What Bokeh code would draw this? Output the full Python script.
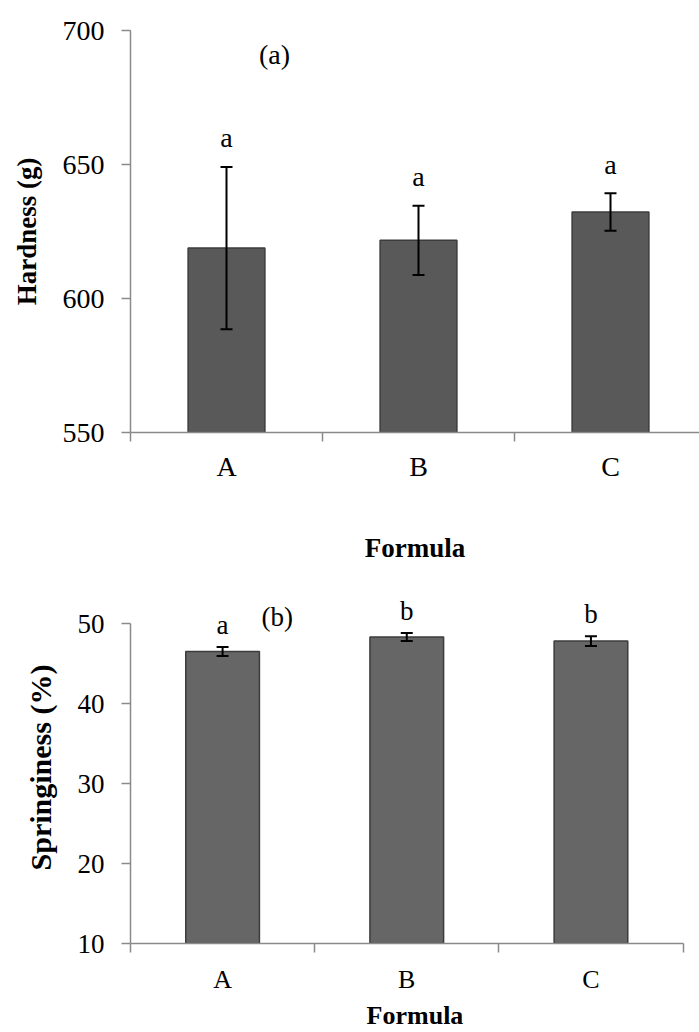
from bokeh.plotting import figure
from bokeh.layouts import column
from bokeh.models import ColumnDataSource, Whisker, TeeHead, FixedTicker, Range1d, Label
from bokeh.core.properties import value
from bokeh.embed import file_html
from bokeh.resources import INLINE

# Texture profile of the three formulas (mean and standard deviation)
formulas = ["A", "B", "C"]
hardness = [618.8, 621.7, 632.3]
hardness_sd = [30.3, 12.9, 7.0]
hardness_groups = ["a", "a", "a"]
springiness = [46.5, 48.3, 47.8]
springiness_sd = [0.55, 0.5, 0.6]
springiness_groups = ["a", "b", "b"]

FONT = "Liberation Serif"
AXIS_GREY = "#8a8a8a"


def panel(values, sds, groups, y_start, y_end, y_top, y_ticks, y_label, tag,
          tag_x, tag_y, width, height, border_left, border_top, border_bottom,
          x_end, x_bounds, fill, tick_size, xtick_size, label_size, ylabel_size,
          letter_offset, x_standoff, x_label_standoff):
    xs = [i + 0.5 for i in range(len(formulas))]
    src = ColumnDataSource(dict(
        x=xs, top=values,
        upper=[v + s for v, s in zip(values, sds)],
        lower=[v - s for v, s in zip(values, sds)],
        group=groups,
    ))
    p = figure(width=width, height=height, output_backend="svg",
               toolbar_location=None, x_range=Range1d(0, x_end),
               y_range=Range1d(y_start, y_top),
               min_border_left=border_left, min_border_right=0,
               min_border_top=border_top, min_border_bottom=border_bottom)
    p.outline_line_color = None
    p.xgrid.visible = False
    p.ygrid.visible = False
    p.background_fill_color = "white"
    p.border_fill_color = "white"

    p.vbar(x="x", top="top", bottom=y_start, width=0.4, source=src,
           fill_color=fill, line_color="#3c3c3c", line_width=1.5)

    head = dict(size=12, line_width=2, line_color="black")
    p.add_layout(Whisker(base="x", upper="upper", lower="lower", source=src,
                         line_width=2, line_color="black", level="overlay",
                         upper_head=TeeHead(**head), lower_head=TeeHead(**head)))

    # significance letters above the error bars
    p.text(x="x", y="upper", text="group", source=src,
           text_font=value(FONT), y_offset=letter_offset,
           text_align="center", text_baseline="middle",
           text_font_size=f"{tick_size}px", text_color="black")

    p.add_layout(Label(x=tag_x, y=tag_y, text=tag, text_font=FONT,
                       text_font_size=f"{tick_size}px", text_align="center",
                       text_baseline="middle", text_color="black"))

    # x axis: boundaries marked with ticks, formula names centred between
    xa = p.xaxis[0]
    xa.ticker = FixedTicker(ticks=xs, minor_ticks=list(range(len(formulas) + 1)))
    xa.major_label_overrides = {x: f for x, f in zip(xs, formulas)}
    xa.major_tick_out = 0
    xa.major_tick_in = 0
    xa.minor_tick_out = 9
    xa.minor_tick_in = 0
    xa.minor_tick_line_color = AXIS_GREY
    xa.minor_tick_line_width = 1.5
    xa.axis_line_color = AXIS_GREY
    xa.axis_line_width = 1.5
    if x_bounds is not None:
        xa.bounds = x_bounds
    xa.major_label_text_font = FONT
    xa.major_label_text_font_size = f"{xtick_size}px"
    xa.major_label_text_color = "black"
    xa.major_label_standoff = x_standoff
    xa.axis_label = "Formula"
    xa.axis_label_text_font = FONT
    xa.axis_label_text_font_style = "bold"
    xa.axis_label_text_font_size = f"{label_size}px"
    xa.axis_label_text_color = "black"
    xa.axis_label_standoff = x_label_standoff

    ya = p.yaxis[0]
    ya.ticker = FixedTicker(ticks=y_ticks)
    ya.bounds = (y_start, y_end)
    ya.minor_tick_line_color = None
    ya.major_tick_out = 9
    ya.major_tick_in = 0
    ya.major_tick_line_color = AXIS_GREY
    ya.major_tick_line_width = 1.5
    ya.axis_line_color = AXIS_GREY
    ya.axis_line_width = 1.5
    ya.major_label_text_font = FONT
    ya.major_label_text_font_size = f"{tick_size}px"
    ya.major_label_text_color = "black"
    ya.major_label_standoff = 17
    ya.axis_label = y_label
    ya.axis_label_text_font = FONT
    ya.axis_label_text_font_style = "bold"
    ya.axis_label_text_font_size = f"{ylabel_size}px"
    ya.axis_label_text_color = "black"
    ya.axis_label_standoff = 18
    return p


pa = panel(hardness, hardness_sd, hardness_groups,
           y_start=550, y_end=700, y_top=700, y_ticks=[550, 600, 650, 700],
           y_label="Hardness (g)", tag="(a)", tag_x=0.75, tag_y=691,
           width=699, height=580, border_left=130, border_top=30,
           border_bottom=148, x_end=569 / 192, x_bounds=None,
           fill="#595959", tick_size=28, xtick_size=28, label_size=27,
           ylabel_size=27, letter_offset=-29, x_standoff=9, x_label_standoff=48)

pb = panel(springiness, springiness_sd, springiness_groups,
           y_start=10, y_end=50, y_top=54, y_ticks=[10, 20, 30, 40, 50],
           y_label="Springiness (%)", tag="(b)", tag_x=0.797, tag_y=50.8,
           width=699, height=452, border_left=129, border_top=11,
           border_bottom=88, x_end=570 / 184.5, x_bounds=(0, 3),
           fill="#666666", tick_size=27, xtick_size=26, label_size=26,
           ylabel_size=30, letter_offset=-22, x_standoff=12, x_label_standoff=4)

layout = column(pa, pb, spacing=0)
open("out.html", "w").write(file_html(layout, INLINE))
